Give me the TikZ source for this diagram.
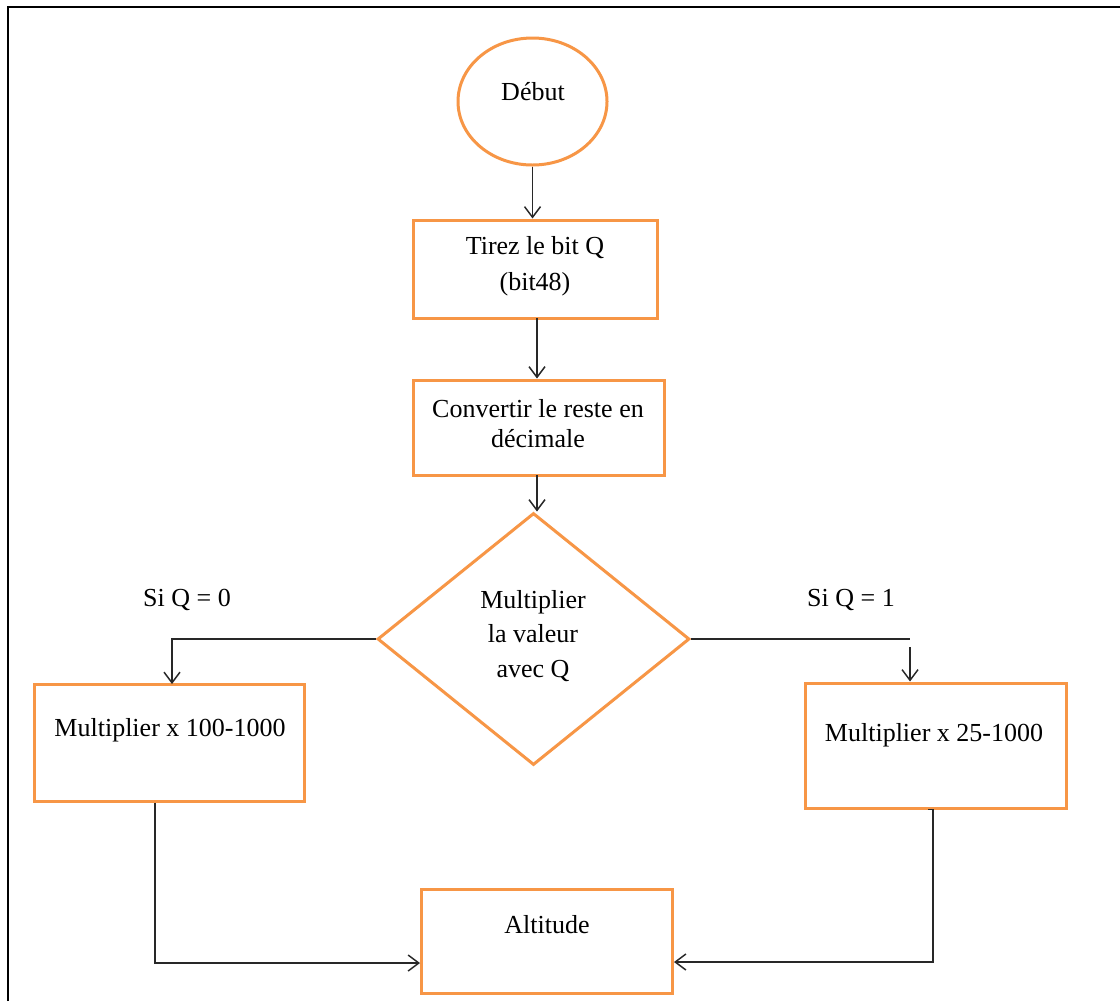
\documentclass[tikz,border=0pt]{standalone}
\usepackage{fontspec}
\setmainfont{Liberation Serif}
\usetikzlibrary{shapes.geometric,arrows.meta,calc}
\definecolor{boxorange}{RGB}{247,150,70}
\definecolor{linegray}{RGB}{40,40,40}
\tikzset{
  shapebox/.style={draw=boxorange, line width=2.25pt, rectangle, inner sep=0pt},
  oval/.style={draw=boxorange, line width=2.25pt, ellipse, inner sep=0pt},
  decision/.style={draw=boxorange, line width=2.25pt, diamond, inner sep=0pt},
  txt/.style={font=\fontsize{19.5}{26}\selectfont, align=center, inner sep=0pt, text=black},
  conn/.style={draw=linegray, line width=1.1pt},
  arr/.style={conn, -{Straight Barb[length=8pt,width=12pt,line width=1.1pt]}},
}
\begin{document}
\begin{tikzpicture}[x=0.75pt,y=-0.75pt]
\useasboundingbox (0,0) rectangle (1120,1001);
\fill[white] (0,0) rectangle (1120,1001);
% frame
\draw[line width=1.5pt] (8,1001) -- (8,7) -- (1120,7);
% shapes
\node[oval, minimum width=149*0.75pt, minimum height=127*0.75pt] (debut) at (532.5,101.5) {};
\node[shapebox, minimum width=244*0.75pt, minimum height=98*0.75pt] (tirez) at (535,269) {};
\node[shapebox, minimum width=251*0.75pt, minimum height=95*0.75pt] (conv) at (538.5,427.5) {};
\node[decision, minimum width=312*0.75pt, minimum height=252*0.75pt] (dec) at (533.5,639) {};
\node[shapebox, minimum width=270*0.75pt, minimum height=117*0.75pt] (lb) at (169,742.5) {};
\node[shapebox, minimum width=261*0.75pt, minimum height=125*0.75pt] (rb) at (935.5,745.5) {};
\node[shapebox, minimum width=251*0.75pt, minimum height=104*0.75pt] (alt) at (547,941.5) {};
% texts
\node[txt] (tdebut) at (533,92) {Début};
\node[txt, font=\fontsize{19.5}{27}\selectfont] (ttirez) at (535,266) {Tirez le bit Q\\(bit48)};
\node[txt, font=\fontsize{19.5}{22.5}\selectfont] (tconv) at (538,424) {Convertir le reste en\\décimale};
\node[txt, font=\fontsize{19.5}{26}\selectfont] (tdec) at (533,636) {Multiplier\\la valeur\\avec Q};
\node[txt] (tlb) at (170,730) {Multiplier x 100-1000};
\node[txt] (trb) at (934,735) {Multiplier x 25-1000};
\node[txt] (talt) at (547,925) {Altitude};
\node[txt] (lq0) at (187,600) {Si Q = 0};
\node[txt] (lq1) at (851,600) {Si Q = 1};
% connector anchor points
\coordinate (c1) at (537,318);
\coordinate (c2) at (537,475);
\coordinate (lbin) at (172,684);
\coordinate (rj) at (910,639);
\coordinate (rs) at (910,647);
\coordinate (la) at (155,963);
\coordinate (ra) at (933,962);
% connectors
\draw[arr] (debut.south) -- (debut.south |- tirez.north);
\draw[arr] (c1) -- (c1 |- conv.north);
\draw[arr] (c2) -- (c2 |- dec.north);
\draw[arr] (dec.west) -| (lbin);
\draw[conn] (dec.east) -- (rj);
\draw[arr] (rs) -- (rs |- rb.north);
\draw[arr] (la |- lb.south) -- (la) -- (la -| alt.west);
\draw[arr] ([xshift=-3.75pt]ra |- rb.south) -- (ra |- rb.south) -- (ra) -- (ra -| alt.east);
\end{tikzpicture}
\end{document}
